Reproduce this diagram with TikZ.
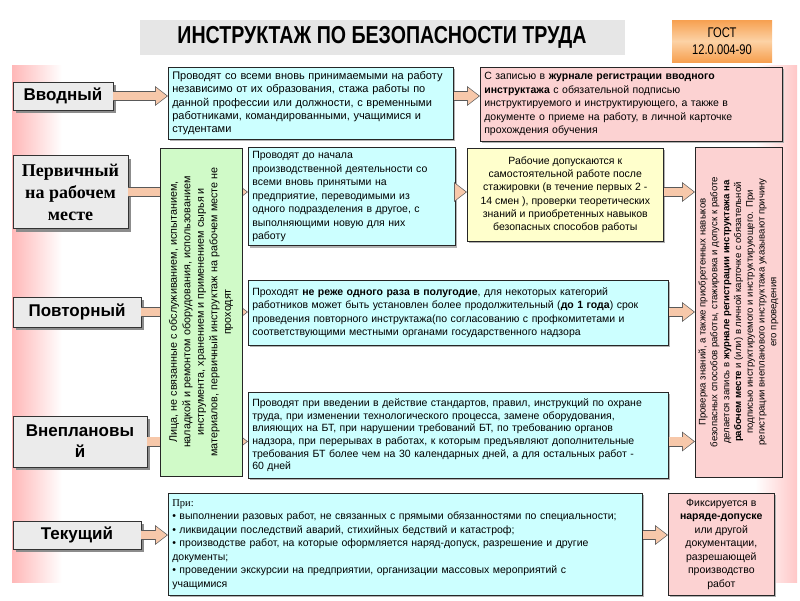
\documentclass[tikz,border=0pt]{standalone}
\usepackage{fontspec}
\setmainfont{Liberation Sans}
\newfontfamily\narrowfont[FakeStretch=0.8]{Liberation Sans}
\newfontfamily\serifface{Liberation Serif}
\usepackage{xcolor}
\usepackage{tikz}
\usetikzlibrary{calc,shadows,positioning,arrows.meta}

\definecolor{cyanfill}{RGB}{204,255,255}
\definecolor{pinkfill}{RGB}{252,210,210}
\definecolor{yellowfill}{RGB}{255,255,204}
\definecolor{greenfill}{RGB}{208,250,200}
\definecolor{labelfill}{RGB}{235,235,235}
\definecolor{arrowfill}{RGB}{247,200,170}
\definecolor{titlefill}{RGB}{230,230,230}
\definecolor{gostdark}{RGB}{247,160,80}
\definecolor{gostlight}{RGB}{252,210,165}

% block arrow: an outline stroke with a filled stroke on top
\newcommand{\flowarrow}[2]{%
  \draw[arrowline] (#1) -- (#2);
  \draw[arrowcore] (#1) -- (#2);}

\begin{document}
\begin{tikzpicture}[
    x=1pt,
    y=-1pt,
    titlebox/.style={
        fill=titlefill,
        minimum width=485pt,
        minimum height=35pt,
        font=\narrowfont\bfseries\fontsize{24.5}{28}\selectfont
    },
    gostbox/.style={
        top color=gostdark,
        bottom color=gostdark,
        middle color=gostlight,
        minimum width=100pt,
        minimum height=42pt,
        align=center,
        font=\narrowfont\fontsize{14}{17}\selectfont
    },
    labelbox/.style={
        draw=black!80,
        semithick,
        fill=labelfill,
        align=center,
        inner sep=2pt,
        font=\bfseries\fontsize{17}{21}\selectfont,
        drop shadow={shadow xshift=3pt,shadow yshift=-3pt,fill=black!45,opacity=1}
    },
    infobox/.style={
        draw=black!85,
        semithick,
        anchor=north west,
        align=left,
        inner sep=4pt,
        font=\fontsize{10.5}{13.5}\selectfont,
        drop shadow={shadow xshift=2pt,shadow yshift=-2pt,fill=black!30,opacity=1}
    },
    sidebox/.style={
        draw=black!85,
        semithick,
        rotate=90,
        align=center,
        inner sep=2pt
    },
    arrowline/.style={
        line width=10pt,
        draw=black!65,
        -{Triangle[length=13pt,width=19pt]}
    },
    arrowcore/.style={
        line width=8.4pt,
        draw=arrowfill,
        shorten >=1.2pt,
        -{Triangle[length=11pt,width=16.4pt]}
    }
]

\useasboundingbox (0,0) rectangle (800,600);

% ---------------------------------------------------------
% Background band
% ---------------------------------------------------------

\shade[left color=red!28, right color=white]
    (12,65) rectangle (62,582);
\shade[left color=white, right color=red!22]
    (755,65) rectangle (797,582);

% ---------------------------------------------------------
% Title and standard
% ---------------------------------------------------------

\node[titlebox] (title) at (382,37)
    {ИНСТРУКТАЖ ПО БЕЗОПАСНОСТИ ТРУДА};

\node[gostbox] (gost) at (722,41)
    {ГОСТ\\12.0.004-90};

% ---------------------------------------------------------
% Kinds of instruction
% ---------------------------------------------------------

\node[labelbox,minimum width=100pt,minimum height=28pt]
    (vvod) at (63,96) {Вводный};

\node[labelbox,minimum width=115pt,minimum height=73pt,
      font=\serifface\bfseries\fontsize{18}{22}\selectfont]
    (perv) at (70.5,192) {Первичный\\на рабочем\\месте};

\node[labelbox,minimum width=128pt,minimum height=30pt]
    (povt) at (77,312) {Повторный};

\node[labelbox,minimum width=134pt,minimum height=51pt]
    (vnep) at (80,441.5) {Внеплановы\\й};

\node[labelbox,minimum width=128pt,minimum height=28pt]
    (tek) at (77,535) {Текущий};

% ---------------------------------------------------------
% Descriptions
% ---------------------------------------------------------

\node[infobox,fill=cyanfill,text width=277pt,minimum height=72pt,
      font=\fontsize{11}{13.3}\selectfont]
    (intro) at (168,67)
{
Проводят со всеми вновь принимаемыми на работу\\
независимо от их образования, стажа работы по\\
данной профессии или должности, с временными\\
работниками, командированными, учащимися и\\
студентами
};

\node[infobox,fill=pinkfill,text width=294pt,minimum height=74pt]
    (introrec) at (480,67)
{
С записью в \textbf{журнале регистрации вводного}\\
\textbf{инструктажа} с обязательной подписью\\
инструктируемого и инструктирующего, а также в\\
документе о приеме на работу, в личной карточке\\
прохождения обучения
};

\node[infobox,fill=cyanfill,text width=199pt,minimum height=97pt,
      font=\fontsize{10.5}{13.5}\selectfont]
    (first) at (248,147)
{
Проводят до начала\\
производственной деятельности со\\
всеми вновь принятыми на\\
предприятие, переводимыми из\\
одного подразделения в другое, с\\
выполняющими новую для них\\
работу
};

\node[infobox,fill=yellowfill,minimum width=196pt,minimum height=93pt,
      align=center,font=\fontsize{10.5}{13.3}\selectfont]
    (trial) at (467,148)
{
Рабочие допускаются к\\
самостоятельной работе после\\
стажировки (в течение первых 2 -\\
14 смен ), проверки теоретических\\
знаний и приобретенных навыков\\
безопасных способов работы
};

\node[infobox,fill=cyanfill,text width=412pt,minimum height=65pt]
    (repeat) at (248,280)
{
Проходят \textbf{не реже одного раза в полугодие}, для некоторых категорий\\
работников может быть установлен более продолжительный (\textbf{до 1 года}) срок\\
проведения повторного инструктажа(по согласованию с профкомитетами и\\
соответствующими местными органами государственного надзора
};

\node[infobox,fill=cyanfill,text width=412pt,minimum height=86pt,
      font=\fontsize{10.5}{12.7}\selectfont]
    (unplan) at (248,392)
{
Проводят при введении в действие стандартов, правил, инструкций по охране\\
труда, при изменении технологического процесса, замене оборудования,\\
влияющих на БТ, при нарушении требований БТ, по требованию органов\\
надзора, при перерывах в работах, к которым предъявляют дополнительные\\
требования БТ более чем на 30 календарных дней, а для остальных работ -\\
60 дней
};

\node[infobox,fill=cyanfill,text width=466pt,minimum height=102pt]
    (current) at (168,493)
{
{\serifface При:}\\
• выполнении разовых работ, не связанных с прямыми обязанностями по специальности;\\
• ликвидации последствий аварий, стихийных бедствий и катастроф;\\
• производстве работ, на которые оформляется наряд-допуск, разрешение и другие\\
документы;\\
• проведении экскурсии на предприятии, организации массовых мероприятий с\\
учащимися
};

\node[infobox,fill=pinkfill,minimum width=106pt,minimum height=102pt,
      align=center]
    (permit) at (668,493)
{
Фиксируется в\\
\textbf{наряде-допуске}\\
или другой\\
документации,\\
разрешающей\\
производство\\
работ
};

% left edge of the rotated note on the right
\coordinate (jedge) at (695,312);

% ---------------------------------------------------------
% Connectors
% ---------------------------------------------------------

\flowarrow{vvod.east}{vvod.east -| intro.west}
\flowarrow{vvod.east -| intro.east}{vvod.east -| introrec.west}

\flowarrow{perv.east}{perv.east -| first.west}
\flowarrow{perv.east -| first.east}{perv.east -| trial.west}
\flowarrow{perv.east -| trial.east}{perv.east -| jedge}

\flowarrow{povt.east}{povt.east -| repeat.west}
\flowarrow{povt.east -| repeat.east}{povt.east -| jedge}

\flowarrow{vnep.east}{vnep.east -| unplan.west}
\flowarrow{vnep.east -| unplan.east}{vnep.east -| jedge}

\flowarrow{tek.east}{tek.east -| current.west}
\flowarrow{tek.east -| current.east}{tek.east -| permit.west}

% ---------------------------------------------------------
% Side notes (rotated), drawn over the connectors
% ---------------------------------------------------------

\node[sidebox,fill=pinkfill,minimum width=330pt,
      minimum height=87pt,font=\fontsize{9.6}{11.8}\selectfont]
    (journal) at (738.5,312)
{
Проверка знаний, а также приобретенных навыков\\
безопасных способов работы, стажировка и допуск к работе\\
делается запись в \textbf{журнале регистрации инструктажа на}\\
\textbf{рабочем месте} и (или) в личной карточке с обязательной\\
подписью инструктируемого и инструктирующего. При\\
регистрации внепланового инструктажа указывают причину\\
его проведения
};

\node[sidebox,fill=greenfill,minimum width=328pt,
      minimum height=82pt,font=\fontsize{10.8}{13.5}\selectfont]
    (exempt) at (201,312)
{
Лица, не связанные с обслуживанием, испытанием,\\
наладкой и ремонтом оборудования, использованием\\
инструмента, хранением и применением сырья и\\
материалов, первичный инструктаж на рабочем месте не\\
проходят
};

\end{tikzpicture}
\end{document}
